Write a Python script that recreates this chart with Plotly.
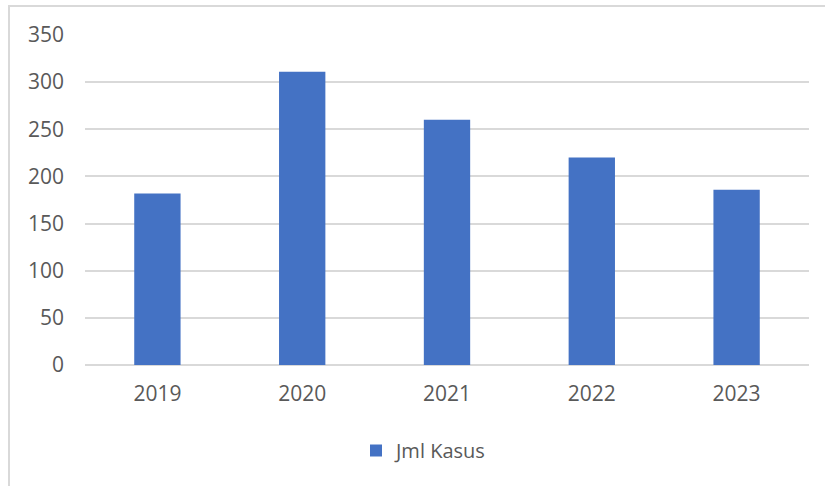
import plotly.graph_objects as go

years = ["2019", "2020", "2021", "2022", "2023"]
jml_kasus = [182, 311, 260, 220, 186]
series_name = "Jml Kasus"
y_ticks = [0, 50, 100, 150, 200, 250, 300, 350]

W, H = 825, 486
ml, mr, mt, mb = 85, 16, 35, 121
pw, ph = W - ml - mr, H - mt - mb

def px_x(p):
    return (p - ml) / pw

def px_y(p):
    return (H - mb - p) / ph

fig = go.Figure()
fig.add_trace(go.Bar(x=years, y=jml_kasus, name=series_name,
                     marker=dict(color="#4472C4", line=dict(width=0))))

font = dict(family="Open Sans, sans-serif", size=21, color="#595959")
legend_font = dict(family="Open Sans, sans-serif", size=20, color="#595959")

fig.update_layout(
    width=W, height=H,
    margin=dict(l=ml, r=mr, t=mt, b=mb, pad=0),
    paper_bgcolor="white", plot_bgcolor="white",
    font=font,
    bargap=0.68,
    showlegend=True,
    legend=dict(orientation="h", x=px_x(356), xanchor="left",
                y=px_y(431), yanchor="top", font=legend_font,
                bgcolor="rgba(0,0,0,0)"),
    xaxis=dict(showgrid=False, showline=False, ticks="", tickfont=font,
               ticklabelstandoff=14),
    yaxis=dict(range=[0, 350], tickvals=y_ticks, showgrid=True,
               gridcolor="#d9d9d9", gridwidth=1.5, zeroline=True,
               zerolinecolor="#d9d9d9", zerolinewidth=1.5,
               showline=False, ticks="", tickfont=font,
               ticklabelstandoff=20),
    shapes=[
        dict(type="line", xref="paper", yref="paper",
             x0=px_x(8), x1=px_x(W + 2), y0=px_y(6), y1=px_y(6),
             line=dict(color="#d9d9d9", width=2)),
        dict(type="line", xref="paper", yref="paper",
             x0=px_x(9), x1=px_x(9), y0=px_y(6), y1=px_y(H + 2),
             line=dict(color="#d9d9d9", width=2)),
    ],
)

fig.write_html("out.html")
